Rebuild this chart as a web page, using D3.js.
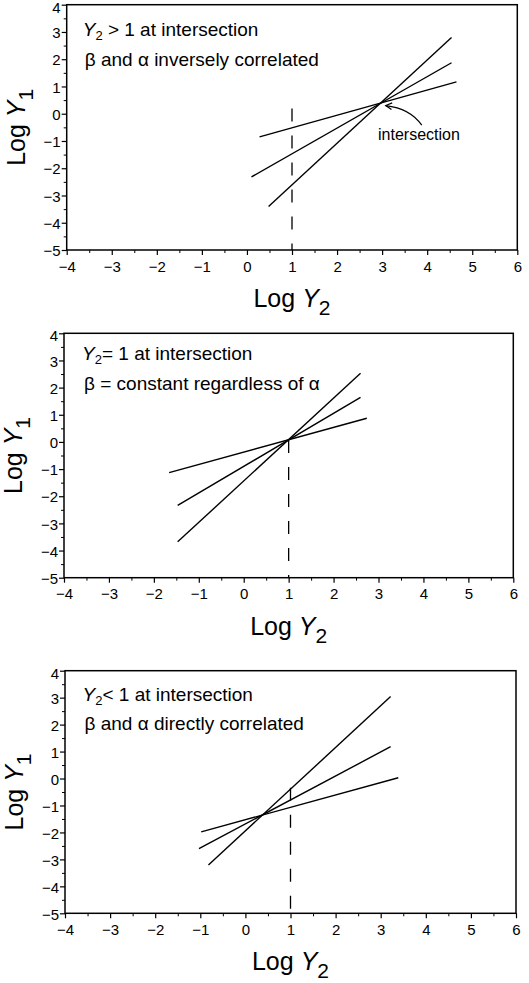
<!DOCTYPE html>
<html>
<head>
<meta charset="utf-8">
<script src="https://cdn.jsdelivr.net/npm/d3@7"></script>
<style>
  body { margin: 0; background: #fff; }
  svg { display: block; }
  text { font-family: "Liberation Sans", Arial, Helvetica, sans-serif; fill: #000; }
</style>
</head>
<body>
<script>
// axis ticks (Log Y2 on x, Log Y1 on y)
var xTicks = [-4, -3, -2, -1, 0, 1, 2, 3, 4, 5, 6];
var xMinor = [-3.5, -2.5, -1.5, -0.5, 0.5, 1.5, 2.5, 3.5, 4.5, 5.5];
var yTicks = [-5, -4, -3, -2, -1, 0, 1, 2, 3, 4];
var yMinor = [-4.5, -3.5, -2.5, -1.5, -0.5, 0.5, 1.5, 2.5, 3.5];

// each line: [x1, y1, x2, y2] in log units
var linesAbove = [[0.28, -0.85, 4.65, 1.17], [0.10, -2.32, 4.54, 1.87], [0.48, -3.40, 4.54, 2.80]];
var linesEqual = [[-1.66, -1.13, 2.74, 0.87], [-1.47, -2.34, 2.60, 1.64], [-1.47, -3.68, 2.60, 2.53]];
var linesBelow = [[-0.98, -1.98, 3.39, 0.03], [-1.03, -2.60, 3.22, 1.18], [-0.82, -3.21, 3.22, 3.04]];

// dashed guide at Log Y2 = 1 : [x, yTop, yBottom]
var guideAbove = [1, 0.19, -5];
var guideEqual = [1, 0.07, -5];
var guideBelow = [1, -0.34, -5];

var noteSigns = [" > 1 at intersection", "= 1 at intersection", "< 1 at intersection"];
var noteSecond = ["\u03b2 and \u03b1 inversely correlated", "\u03b2 = constant regardless of \u03b1", "\u03b2 and \u03b1 directly correlated"];

// curved arrow in top panel: start, control, tip
var arrowPts = [[3.88, -0.42], [3.62, 0.20], [3.08, 0.30]];
var arrowLabel = "intersection";
var arrowLabelPos = [2.91, -0.96];

var width = 529, height = 983;

var panels = [
  {left: 66.7, top: 4.7, w: 450.6, h: 245.3, noteX: 16, note1: 31, note2: 61, lines: linesAbove, guide: guideAbove},
  {left: 64, top: 333.3, w: 449.3, h: 244.4, noteX: 18, note1: 27, note2: 57, lines: linesEqual, guide: guideEqual},
  {left: 65, top: 670.7, w: 451, h: 242.6, noteX: 17.5, note1: 30, note2: 59.5, lines: linesBelow, guide: guideBelow}
];

var svg = d3.select("body").append("svg")
    .attr("width", width)
    .attr("height", height);

function drawPanel(p, i) {
  var g = svg.append("g").attr("transform", "translate(" + p.left + "," + p.top + ")");

  var x = d3.scaleLinear().domain([-4, 6]).range([0, p.w]);
  var y = d3.scaleLinear().domain([-5, 4]).range([p.h, 0]);

  // minor ticks
  g.append("g")
      .attr("transform", "translate(0," + p.h + ")")
      .call(d3.axisBottom(x).tickValues(xMinor).tickSize(3).tickFormat(""))
      .call(function(a) { a.select(".domain").remove(); });
  g.append("g")
      .call(d3.axisLeft(y).tickValues(yMinor).tickSize(3).tickFormat(""))
      .call(function(a) { a.select(".domain").remove(); });

  // major ticks + labels
  var xa = g.append("g")
      .attr("transform", "translate(0," + p.h + ")")
      .call(d3.axisBottom(x).tickValues(xTicks).tickSize(5).tickPadding(6));
  var ya = g.append("g")
      .call(d3.axisLeft(y).tickValues(yTicks).tickSize(5).tickPadding(1));
  [xa, ya].forEach(function(a) {
    a.select(".domain").remove();
    a.selectAll("text").attr("font-size", 15).attr("font-family", null);
    a.selectAll("line").attr("stroke-width", 1.2);
  });
  // top label sits a touch lower so it is not clipped by the page edge
  ya.selectAll("text").attr("dy", function(d) { return d === 4 ? "0.5em" : "0.38em"; });

  // frame
  g.append("rect")
      .attr("width", p.w)
      .attr("height", p.h)
      .attr("fill", "none")
      .attr("stroke", "#000")
      .attr("stroke-width", 1.5);

  // dashed guide
  g.append("line")
      .attr("x1", x(p.guide[0])).attr("x2", x(p.guide[0]))
      .attr("y1", y(p.guide[1])).attr("y2", y(p.guide[2]))
      .attr("stroke", "#000")
      .attr("stroke-width", 1.3)
      .attr("stroke-dasharray", "13,14");

  // the three lines
  g.selectAll(".fit")
    .data(p.lines)
    .enter().append("line")
      .attr("class", "fit")
      .attr("x1", function(d) { return x(d[0]); })
      .attr("y1", function(d) { return y(d[1]); })
      .attr("x2", function(d) { return x(d[2]); })
      .attr("y2", function(d) { return y(d[3]); })
      .attr("stroke", "#000")
      .attr("stroke-width", 1.4);

  // notes
  var t1 = g.append("text")
      .attr("x", p.noteX)
      .attr("y", p.note1)
      .attr("font-size", 19);
  t1.append("tspan").attr("font-style", "italic").text("Y");
  t1.append("tspan").attr("font-size", 13).attr("dy", 4).text("2");
  t1.append("tspan").attr("dy", -4).text(noteSigns[i]);

  g.append("text")
      .attr("x", p.noteX + 2)
      .attr("y", p.note2)
      .attr("font-size", 19)
      .text(noteSecond[i]);

  // axis titles
  var xt = g.append("text")
      .attr("x", p.w / 2)
      .attr("y", p.h + 57)
      .attr("text-anchor", "middle")
      .attr("font-size", 25);
  xt.append("tspan").text("Log ");
  xt.append("tspan").attr("font-style", "italic").text("Y");
  xt.append("tspan").attr("font-size", 21).attr("dy", 8).text("2");

  var yt = g.append("text")
      .attr("transform", "translate(-42," + (p.h / 2) + ") rotate(-90)")
      .attr("text-anchor", "middle")
      .attr("font-size", 25);
  yt.append("tspan").text("Log ");
  yt.append("tspan").attr("font-style", "italic").text("Y");
  yt.append("tspan").attr("font-size", 21).attr("dy", 8).text("1");

  if (i === 0) {
    var s = [x(arrowPts[0][0]), y(arrowPts[0][1])];
    var c = [x(arrowPts[1][0]), y(arrowPts[1][1])];
    var e = [x(arrowPts[2][0]), y(arrowPts[2][1])];
    g.append("path")
        .attr("d", "M" + s + "Q" + c + " " + e)
        .attr("fill", "none")
        .attr("stroke", "#000")
        .attr("stroke-width", 1.2);
    // open arrow head along the curve tangent at tip
    var ang = Math.atan2(e[1] - c[1], e[0] - c[0]);
    var hl = 7, spread = 0.5;
    var h1 = [e[0] - hl * Math.cos(ang - spread), e[1] - hl * Math.sin(ang - spread)];
    var h2 = [e[0] - hl * Math.cos(ang + spread), e[1] - hl * Math.sin(ang + spread)];
    g.append("path")
        .attr("d", "M" + h1 + "L" + e + "L" + h2)
        .attr("fill", "none")
        .attr("stroke", "#000")
        .attr("stroke-width", 1.2);
    g.append("text")
        .attr("x", x(arrowLabelPos[0]))
        .attr("y", y(arrowLabelPos[1]))
        .attr("font-size", 16)
        .text(arrowLabel);
  }
}

panels.forEach(drawPanel);
</script>
</body>
</html>
